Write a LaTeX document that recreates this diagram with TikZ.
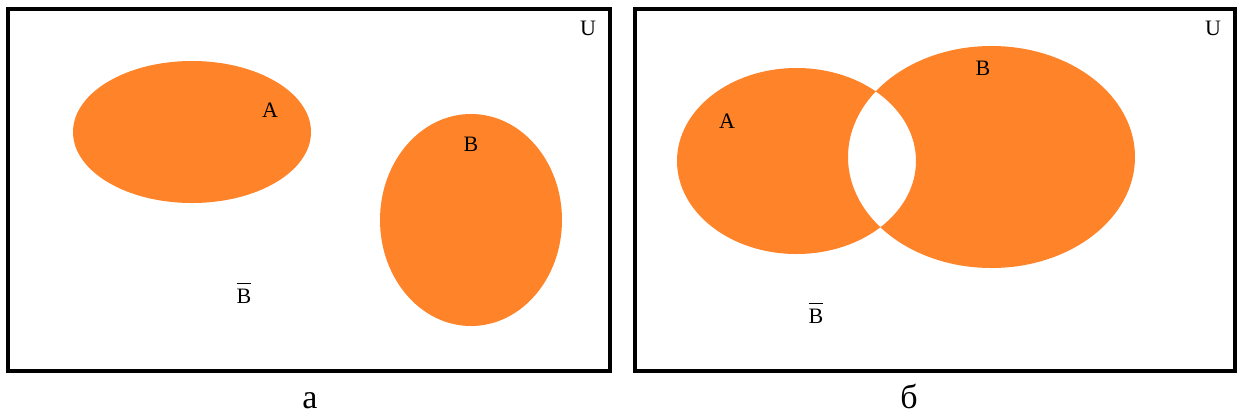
\documentclass[tikz,border=0pt]{standalone}
\usepackage{fontspec}
\setmainfont{Liberation Serif}
\definecolor{setorange}{RGB}{254,131,41}
\newcommand{\compl}[1]{\vbox{\hrule height 1.2pt\kern 5pt\hbox{#1}}}

\begin{document}
\begin{tikzpicture}[x=1pt,y=-1pt,
    frame/.style={draw=black, line width=3.6pt},
    setfill/.style={fill=setorange},
    lbl/.style={inner sep=0pt, font=\fontsize{22}{22}\selectfont},
    sub/.style={inner sep=0pt, font=\fontsize{34}{34}\selectfont}]
                        \useasboundingbox (0,0) rectangle (1242,416);
                        % Universes
                        \draw[frame] (8,9) rectangle (610,371);
                        \draw[frame] (635,9) rectangle (1235,371);

                        % Sets
                        \fill[setfill] (192,132) ellipse (119pt and 71pt);
                        \fill[setfill] (471,220) ellipse (91pt and 106pt);
                        \fill[setfill, even odd rule] (796.5,161) ellipse (119.5pt and 93pt)
                                                      (991.5,157) ellipse (143.5pt and 111pt);

                        % Labels
                        \node[lbl] (U1) at (588,28) {U};
                        \node[lbl] (A1) at (270,110) {A};
                        \node[lbl] (B1) at (471,144) {B};
                        \node[lbl] (nB1) at (244,293) {\compl{B}};
                        \node[lbl] (U2) at (1213,28) {U};
                        \node[lbl] (A2) at (727,121) {A};
                        \node[lbl] (B2) at (983,68) {B};
                        \node[lbl] (nB2) at (816,313) {\compl{B}};
                        \node[sub] (a) at (310,401) {а};
                        \node[sub] (b) at (909,396) {б};
                    \end{tikzpicture}
\end{document}
